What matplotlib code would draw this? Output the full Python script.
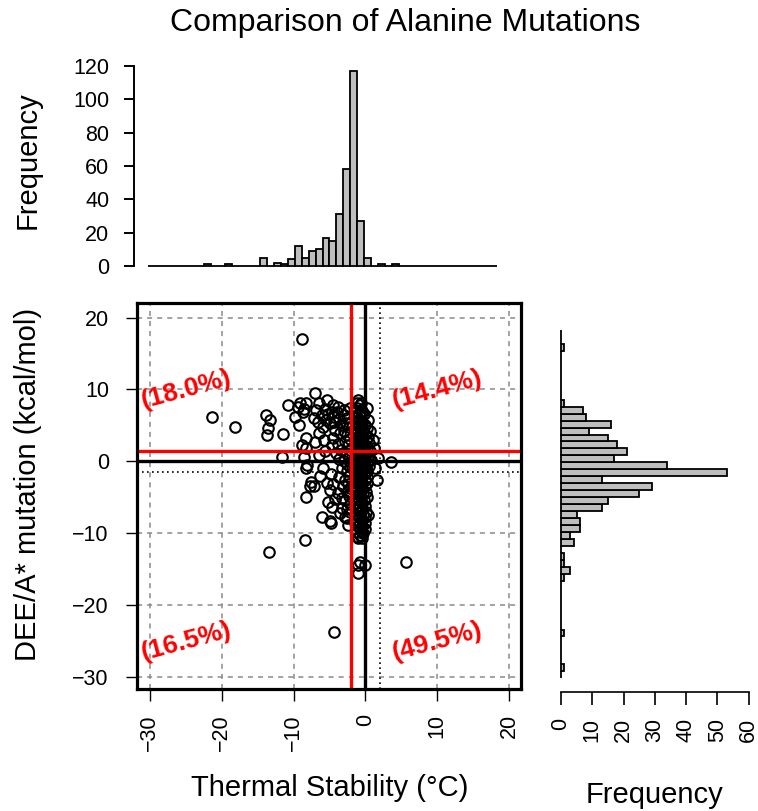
import matplotlib.pyplot as plt
import numpy as np

plt.rcParams['font.family'] = ['Liberation Sans', 'DejaVu Sans']

# histogram bins (1 unit wide, -30 .. 20)
bin_edges = np.arange(-30, 21)
stab_counts = [0, 0, 0, 0, 0, 0, 0, 0, 1, 0, 0, 1, 0, 0, 0, 0, 5, 0, 2, 1,
               4, 12, 5, 9, 10, 17, 15, 31, 58, 117, 27, 5, 0, 1, 0, 1,
               0, 0, 0, 0, 0, 0, 0, 0, 0, 0, 0, 0, 0, 0]
dee_counts = [0, 1, 0, 0, 0, 0, 1, 0, 0, 0, 0, 0, 0, 0, 1, 3, 1, 1, 0,
              4, 3, 6, 6, 5, 13, 15, 25, 29, 13, 53, 34, 17, 21, 18,
              15, 9, 16, 8, 7, 1, 0, 0, 0, 0, 0, 0, 0, 1, 0, 0]

# scattered mutations (outside the dense column)
spread_stab = [-21.3, -18.2, -13.9, -13.3, -13.5, -13.7, -13.45, -11.5, -11.6, -10.8,
               -9.1, -9.8, -9.3, -9.4, -8.8, -8.2, -8.7, -8.2, -8.85, -8.2,
               -8.6, -8.2, -8.1, -8.25, -8.4, -8.5, -7.5, -7.7, -7.2, -7.2,
               -7.05, -6.95, -6.5, -6.5, -6.3, -6.1, -6.1, -6.6, -6.8, -6.4,
               -5.85, -5.4, -5.85, -5.15, -5.6, -5.2, -5.5, -5.7, -5.3, -5.6,
               -4.45, -4.9, -4.2, -4.45, -4.9, -4.45, -4.8, -4.36, -4.95, -4.7,
               -4.3, -4.6, -4.1, -4.8, -4.2, -4.6, -4.3, -3.76, -3.5, -3.3,
               -3.3, -3.9, -3.6, -3.2, -3.8, -3.4, -3.7, -3.2, -3.6, -3.1,
               -3.8, -3.5, -2.95, -2.8, -2.6,
               -2.9, -2.5, -2.2, -2.7, -2.3, -2.9, -2.5, -2.1, -2.8, -2.4,
               -2.2, -2.7, -2.3, -2.9, -2.5, -2.1, -2.6, -2.3, -2.8, -2.4,
               -2.1, -2.6, -2.3, -2.8, -2.2, -2.5, -2.1, -2.4,
               1.6, 1.8, 3.58, 5.67, 1.2, 1.4, 1.1,
               -0.74, 0.0, -0.97, -1.0, -1.4, -0.97, -0.3, 0.4, 0.65]
spread_dee = [6.2, 4.8, 6.45, 5.75, 4.6, 3.65, -12.6, 3.8, 0.65, 7.8,
              8.15, 6.2, 5.05, 7.6, 17.0, 8.15, 6.9, 3.2, 2.25, 1.8,
              0.65, -0.97, -0.5, -4.9, -10.95, 7.3, -2.85, -3.5, -3.5, 6.0,
              9.45, 2.7, 8.05, 0.9, -2.1, 6.45, -7.7, 5.5, 7.2, 3.9,
              4.8, 8.5, -0.97, -5.6, 7.3, 6.6, 5.8, 3.0, -3.0, 1.5,
              7.8, 5.3, 4.35, 3.2, -4.0, -3.1, -8.6, -23.7, -8.3, 6.8,
              6.2, 2.3, 1.2, -1.8, -5.2, -6.4, 5.5, 7.6, 3.9, -5.15,
              -6.5, 6.9, 5.9, 5.0, 2.4, 1.6, 0.3, -0.9, -2.2, -3.4,
              -4.4, -7.2, 7.1, -7.7, -7.9,
              6.4, 6.0, 7.4, 5.3, 4.8, 4.2, 3.6, 3.1, 2.8, 2.2,
              1.6, 1.2, 0.6, 0.1, -0.4, -0.8, -1.4, -2.0, -2.6, -3.1,
              -3.7, -4.2, -4.8, -5.4, -5.9, -6.6, -7.0, -8.8,
              -2.6, 0.4, -0.05, -14.0, 1.8, -1.0, 3.0,
              -14.0, -14.4, -15.6, -14.4, -8.6, -10.5, -10.0, -7.5, 0.2]

# dense column of mutations near 0 degC
core_stab = [-0.97, -1.2, -0.6, -0.74, -1.1, 0.28, -0.5, -1.3, -0.9, -0.2,
             -1.2, -0.6, -0.9, 0.42, -1.3, -0.4, -1.0, -0.1,
             -1.4, -0.6, 0.2, -1.1, -0.3, 0.65, -1.3, -0.8, 0.0,
             -1.0, -0.4, 0.4, -1.4, -0.7, 0.1, -1.1, -0.4, 0.5,
             -1.5, -0.8, 0.0, -1.2, -0.5, 0.3,
             -1.4, -0.9, -0.2, 0.6, -1.1, -0.6, 0.1,
             -1.5, -0.9, -0.3, 0.4, -1.2, -0.6, 0.0, 0.8,
             -1.4, -0.9, -0.4, 0.2, -1.2, -0.7, -0.1, 0.5,
             -1.5, -0.9, -0.4, 0.1,
             -1.1, -0.6, 0.3, -1.4, -0.8, -0.2, -1.1, -0.5, 0.2,
             -1.3, -0.8, -0.1, -1.0, -0.5, 0.3, -1.4, -0.7, 0.0,
             -1.1, -0.4, -1.3, -0.7, 0.1, -1.0, -0.3, -1.2, -0.6, 0.2,
             -0.9, -0.2, -1.3, -0.5, -1.0, 0.0, -1.2, -0.4, -0.8, 0.1,
             -1.1, -0.3, -0.9, 0.0, -1.2, -0.5, -0.8, -0.1, -1.0, -0.4,
             -0.7, 0.0, -1.1, -0.5, -0.8, -1.0, -0.4]
core_dee = [8.5, 8.1, 8.1, 7.8, 7.4, 7.4, 7.0, 7.0, 6.6, 6.6,
            6.2, 6.2, 5.8, 5.8, 5.4, 5.4, 5.0, 5.0,
            4.6, 4.6, 4.6, 4.2, 4.2, 4.2, 3.8, 3.8, 3.8,
            3.4, 3.4, 3.4, 3.0, 3.0, 3.0, 2.6, 2.6, 2.6,
            2.2, 2.2, 2.2, 1.8, 1.8, 1.8,
            1.4, 1.4, 1.4, 1.4, 1.0, 1.0, 1.0,
            0.6, 0.6, 0.6, 0.6, 0.2, 0.2, 0.2, 0.2,
            -0.2, -0.2, -0.2, -0.2, -0.6, -0.6, -0.6, -0.6,
            -1.0, -1.0, -1.0, -1.0,
            -1.4, -1.4, -1.4, -1.8, -1.8, -1.8, -2.2, -2.2, -2.2,
            -2.6, -2.6, -2.6, -3.0, -3.0, -3.0, -3.4, -3.4, -3.4,
            -3.8, -3.8, -4.2, -4.2, -4.2, -4.6, -4.6, -5.0, -5.0, -5.0,
            -5.4, -5.4, -5.8, -5.8, -6.2, -6.2, -6.6, -6.6, -7.0, -7.0,
            -7.4, -7.4, -7.8, -7.8, -8.2, -8.2, -8.6, -8.6, -9.0, -9.0,
            -9.4, -9.4, -9.8, -9.8, -10.2, -10.6, -10.6]

quad_labels = ['(18.0%)', '(14.4%)', '(16.5%)', '(49.5%)']
quad_x = [-25, 10, -25, 10]
quad_y = [10, 10, -25, -25]

stab_mean, dee_mean = -2.03, 1.47
stab_cut, dee_cut = 2.0, -1.5

stab = spread_stab + core_stab
dee = spread_dee + core_dee

W, H = 758, 811
fig = plt.figure(figsize=(W / 100, H / 100), dpi=100)


def px_axes(x0, y0, x1, y1):
    return fig.add_axes([x0 / W, 1 - y1 / H, (x1 - x0) / W, (y1 - y0) / H])


# ---- scatter ----
ax = px_axes(136.7, 302.7, 520.7, 689.3)
ax.set_xlim(-31.84, 21.64)
ax.set_ylim(-31.71, 22.06)
for v in range(-30, 21, 10):
    ax.axvline(v, color='#8a8a8a', lw=1.1, ls=(0, (3.3, 3.3)), zorder=1)
    ax.axhline(v, color='#8a8a8a', lw=1.1, ls=(0, (3.3, 3.3)), zorder=1)
ax.plot(stab, dee, 'o', mfc='none', mec='black', ms=7.6, mew=1.5, zorder=2)
ax.axvline(0, color='black', lw=2.4, zorder=3)
ax.axhline(0, color='black', lw=2.4, zorder=3)
ax.axvline(stab_cut, color='black', lw=1.2, ls=(0, (1, 2)), zorder=3)
ax.axhline(dee_cut, color='black', lw=1.2, ls=(0, (1, 2)), zorder=3)
ax.axvline(stab_mean, color='red', lw=2.4, zorder=4)
ax.axhline(dee_mean, color='red', lw=2.4, zorder=4)
for lab, x, y in zip(quad_labels, quad_x, quad_y):
    ax.text(x, y, lab, color='red', fontsize=19, fontweight='bold',
            rotation=15, ha='center', va='center', rotation_mode='anchor', zorder=5)
for s in ax.spines.values():
    s.set_linewidth(2.3)
    s.set_zorder(6)
ax.set_xticks(range(-30, 21, 10))
ax.set_yticks(range(-30, 21, 10))
ax.tick_params(axis='x', length=8.6, width=1, pad=9.4, labelsize=15.5, labelrotation=90)
ax.tick_params(axis='y', length=8, width=1, pad=12, labelsize=15.5)

# ---- top histogram ----
axt = px_axes(134.4, 63.2, 510.6, 273.8)
axt.bar(bin_edges[:-1], stab_counts, width=1, align='edge',
        color='#BEBEBE', edgecolor='black', lw=1.3)
axt.set_xlim(-32, 22)
axt.set_ylim(-4.68, 121.68)
for k in ['top', 'right', 'bottom']:
    axt.spines[k].set_visible(False)
axt.spines['left'].set_bounds(0, 120)
axt.spines['left'].set_linewidth(1.4)
axt.set_xticks([])
axt.set_yticks(range(0, 121, 20))
axt.tick_params(axis='y', length=7, width=1.4, pad=11, labelsize=15.5)

# ---- right histogram ----
axr = px_axes(553.5, 316.1, 756.2, 692.2)
axr.barh(bin_edges[:-1], dee_counts, height=1, align='edge',
         color='#BEBEBE', edgecolor='black', lw=1.3)
axr.set_ylim(-32, 22)
axr.set_xlim(-2.4, 62.4)
for k in ['top', 'right', 'left']:
    axr.spines[k].set_visible(False)
axr.spines['bottom'].set_bounds(0, 60)
axr.spines['bottom'].set_linewidth(1.2)
axr.set_yticks([])
axr.set_xticks(range(0, 61, 10))
axr.tick_params(axis='x', length=9.2, width=1.2, pad=9.4, labelsize=15.5, labelrotation=90)

# ---- labels ----
fig.text(405 / W, 1 - 23 / H, 'Comparison of Alanine Mutations', fontsize=23,
         ha='center', va='center')
fig.text(330 / W, 1 - 788 / H, 'Thermal Stability (°C)', fontsize=21,
         ha='center', va='center')
fig.text(654.6 / W, 1 - 809 / H, 'Frequency', fontsize=21, ha='center', va='bottom')
fig.text(28 / W, 1 - 484 / H, 'DEE/A* mutation (kcal/mol)', fontsize=21,
         rotation=90, ha='center', va='center')
fig.text(27.5 / W, 1 - 160 / H, 'Frequency', fontsize=21, rotation=90,
         ha='center', va='center')

fig.savefig('out.png', dpi=100)
